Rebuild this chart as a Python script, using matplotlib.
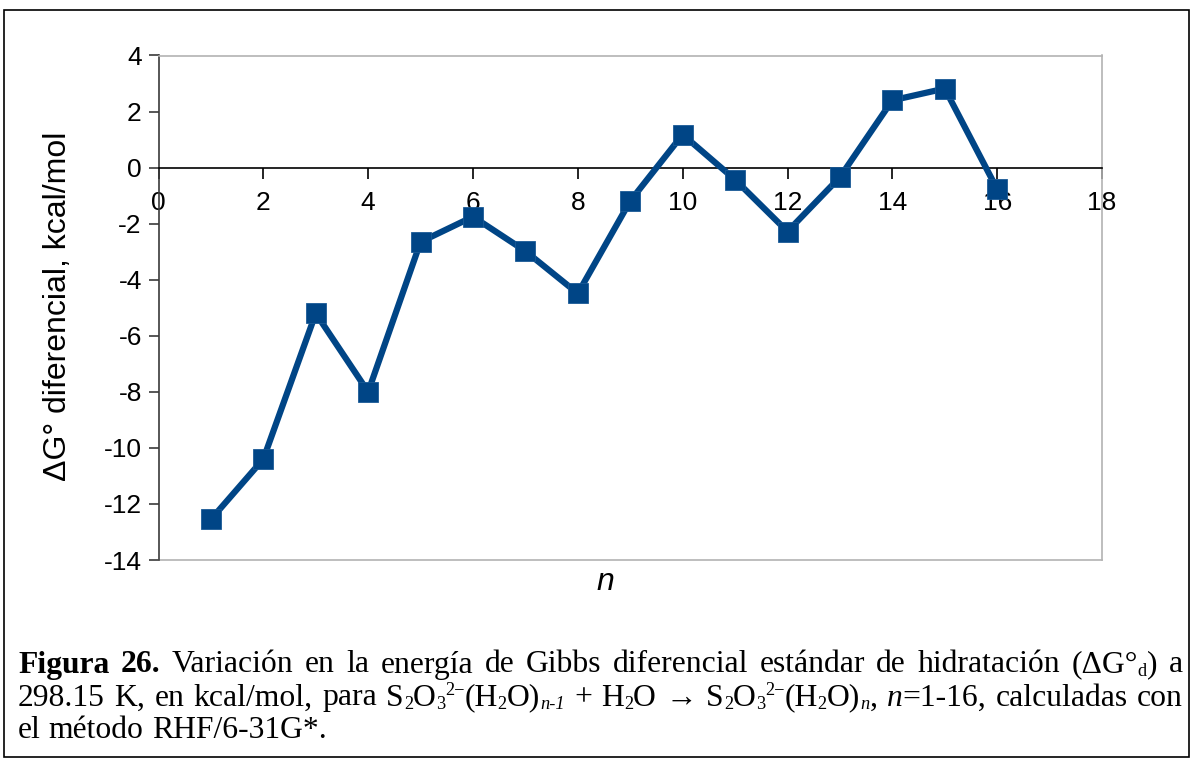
import matplotlib
matplotlib.use("Agg")
import matplotlib.pyplot as plt
from matplotlib.patches import Rectangle
from matplotlib.lines import Line2D

# Differential Gibbs energy of hydration per added water molecule
n_values = [1, 2, 3, 4, 5, 6, 7, 8, 9, 10, 11, 12, 13, 14, 15, 16]
dG_values = [-12.55, -10.40, -5.20, -8.00, -2.65, -1.75, -2.98, -4.49,
             -1.19, 1.18, -0.43, -2.28, -0.34, 2.40, 2.82, -0.77]
x_ticks = [0, 2, 4, 6, 8, 10, 12, 14, 16, 18]
y_ticks = [4, 2, 0, -2, -4, -6, -8, -10, -12, -14]
y_label = "ΔG° diferencial, kcal/mol"
x_label = "n"

W, H = 1193, 761
fig = plt.figure(figsize=(W / 100, H / 100), dpi=100)
fig.patch.set_facecolor("white")


def fx(px):
    return px / W


def fy(py):
    return 1 - py / H


# outer frame around chart and caption
fig.patches.append(Rectangle((fx(4), fy(757)), fx(1189) - fx(4), fy(10) - fy(757),
                             transform=fig.transFigure, fill=False,
                             edgecolor="black", linewidth=1.2))

ax = fig.add_axes([fx(158.5), fy(560), fx(1102) - fx(158.5), fy(55.5) - fy(560)])
ax.set_xlim(0, 18)
ax.set_ylim(-14, 4)

line_color = "#004586"
ax.plot(n_values, dG_values, color=line_color, linewidth=4.5, marker="s",
        markersize=14, markerfacecolor=line_color, markeredgecolor="#1a5a96",
        markeredgewidth=0.6, zorder=5, clip_on=False)

frame_gray = "#b3b3b3"
for side in ("top", "right"):
    ax.spines[side].set_color(frame_gray)
    ax.spines[side].set_linewidth(1.2)
ax.spines["left"].set_color("#3a3a3a")
ax.spines["left"].set_linewidth(1.2)
ax.spines["bottom"].set_position(("data", 0))
ax.spines["bottom"].set_color("black")
ax.spines["bottom"].set_linewidth(1.2)
ax.add_line(Line2D([0, 1], [0, 0], transform=ax.transAxes, color=frame_gray,
                   linewidth=1.2, clip_on=False))

ax.set_xticks(x_ticks)
ax.set_yticks(y_ticks)
ax.set_xticklabels([str(v) for v in x_ticks])
ax.set_yticklabels([str(v) for v in y_ticks])
ax.tick_params(axis="x", direction="out", length=8, width=1.2, color="black",
               pad=9, labelcolor="black")
ax.tick_params(axis="y", direction="out", length=7, width=1.2, color="#3a3a3a",
               pad=5, labelcolor="black")
for lab in ax.get_xticklabels() + ax.get_yticklabels():
    lab.set_family("Liberation Sans")
    lab.set_fontsize(19)

fig.text(fx(58), fy(306), y_label, rotation=90, ha="center", va="center",
         fontsize=23, family="Liberation Sans")
fig.text(fx(605), fy(582), x_label, ha="center", va="center", fontsize=23,
         family="Liberation Sans", style="italic")

# ---- caption: words made of styled runs, first two lines justified ----
cap_size = 22.8
em_px = cap_size * 100 / 72
script_scale = 0.58
sub_shift = -0.10 * em_px
sup_shift = 0.34 * em_px

# run kinds: n normal, b bold, i italic, sub, sup, subi (italic subscript)
anion = [("S", "n"), ("2", "sub"), ("O", "n"), ("3", "sub"), ("2−", "sup"),
         ("(H", "n"), ("2", "sub"), ("O)", "n")]
caption_lines = [
    [[("Figura", "b")], [("26.", "b")], [("Variación", "n")], [("en", "n")],
     [("la", "n")], [("energía", "n")], [("de", "n")], [("Gibbs", "n")],
     [("diferencial", "n")], [("estándar", "n")], [("de", "n")],
     [("hidratación", "n")], [("(ΔG°", "n"), ("d", "sub"), (")", "n")],
     [("a", "n")]],
    [[("298.15", "n")], [("K,", "n")], [("en", "n")], [("kcal/mol,", "n")],
     [("para", "n")], anion + [("n-1", "subi")], [("+", "n")],
     [("H", "n"), ("2", "sub"), ("O", "n")], [("→", "n")],
     anion + [("n", "subi"), (",", "n")],
     [("n", "i"), ("=1-16,", "n")], [("calculadas", "n")], [("con", "n")]],
    [[("el", "n")], [("método", "n")], [("RHF/6-31G*.", "n")]],
]
baselines = [672.5, 705.5, 737.5]
justify = [True, True, False]
left_px, right_px = 18, 1183

renderer = fig.canvas.get_renderer()


def make_run(text, kind, base):
    size = cap_size
    dy = 0.0
    weight, style = "normal", "normal"
    if kind == "b":
        weight = "bold"
    if kind in ("i", "subi"):
        style = "italic"
    if kind in ("sub", "subi"):
        size, dy = cap_size * script_scale, sub_shift
    if kind == "sup":
        size, dy = cap_size * script_scale, sup_shift
    t = fig.text(0, fy(base - dy), text, fontsize=size, va="baseline",
                 ha="left", family=["Liberation Serif", "DejaVu Serif"],
                 fontweight=weight, fontstyle=style)
    return t, t.get_window_extent(renderer).width


for words, base, just in zip(caption_lines, baselines, justify):
    built = []
    for runs in words:
        parts = [make_run(txt, kind, base) for txt, kind in runs]
        built.append((parts, sum(w for _, w in parts)))
    total = sum(w for _, w in built)
    if just:
        gap = (right_px - left_px - total) / (len(built) - 1)
    else:
        gap = 0.25 * em_px
    x = left_px
    for parts, width in built:
        cx = x
        for t, w in parts:
            t.set_x(fx(cx))
            cx += w
        x += width + gap

fig.savefig("out.png", dpi=100)
